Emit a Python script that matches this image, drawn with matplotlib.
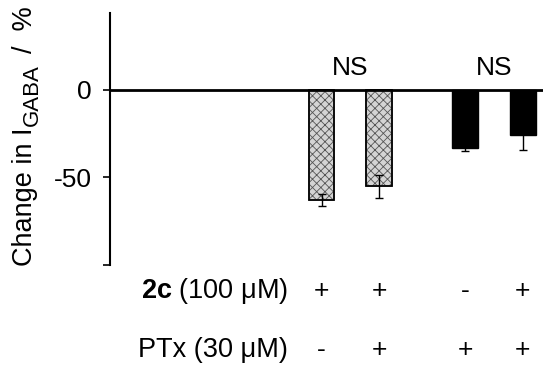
import matplotlib
matplotlib.use("Agg")
import matplotlib.pyplot as plt
import matplotlib.transforms as mtrans

plt.rcParams['font.family'] = ['Liberation Sans', 'DejaVu Sans']
plt.rcParams['mathtext.fontset'] = 'custom'
plt.rcParams['mathtext.rm'] = 'Liberation Sans'
plt.rcParams['mathtext.bf'] = 'Liberation Sans:bold'
plt.rcParams['hatch.linewidth'] = 0.6

# data
x_pos = [0, 1, 2.5, 3.5]
change = [-63, -55, -33, -26]
err = [3.5, 6.5, 2, 8.5]
fills = ['hatch', 'hatch', 'black', 'black']
row_2c = ['+', '+', '-', '+']
row_ptx = ['-', '+', '+', '+']
ns_pos = [0.5, 3.0]

W, H = 550, 372
fig = plt.figure(figsize=(W / 100, H / 100), dpi=100)
ax = fig.add_axes([0.2, 0.288, 0.787, 0.677])

for x, v, e, f in zip(x_pos, change, err, fills):
    if f == 'hatch':
        ax.bar(x, v, width=0.45, color='#d4d4d4', edgecolor='#555555',
               hatch='xxxx', linewidth=1.2, zorder=2)
        ax.bar(x, v, width=0.45, fill=False, edgecolor='black', linewidth=1.2, zorder=3)
    else:
        ax.bar(x, v, width=0.45, color='black', edgecolor='black', zorder=2)
    ax.errorbar(x, v, yerr=e, color='black', capsize=3, elinewidth=1,
                capthick=1, zorder=4)

ax.axhline(0, color='black', linewidth=2, zorder=5)

for x in ns_pos:
    ax.text(x, 12.5, 'NS', ha='center', va='center', fontsize=19)

ax.set_xlim(-3.68, 3.85)
ax.set_ylim(-100, 44)
ax.set_yticks([0, -50, -100])
ax.set_yticklabels(['0', '-50', ''], fontsize=19)
ax.tick_params(axis='y', direction='out', length=5, width=1.2, pad=8)
ax.set_xticks([])
for s in ['top', 'right', 'bottom']:
    ax.spines[s].set_visible(False)
ax.spines['left'].set_linewidth(1.5)

# y label built from pieces so the subscript stays large
px = fig.dpi_scale_trans + mtrans.Affine2D().scale(1 / fig.dpi)
kw = dict(rotation=90, rotation_mode='anchor', ha='left', va='baseline',
          transform=px)
t1 = fig.text(32, H - 266, 'Change in I', fontsize=19.5, **kw)
fig.canvas.draw()
top1 = t1.get_window_extent().y1
t2 = fig.text(38, top1 + 1, 'GABA', fontsize=16, **kw)
fig.canvas.draw()
top2 = t2.get_window_extent().y1
fig.text(32, top2 + 12, '/  %', fontsize=19.5, **kw)

trans = mtrans.blended_transform_factory(ax.transData, fig.transFigure)
y_2c = (H - 298) / H
y_ptx = (H - 357) / H
ax.text(-0.58, y_2c, '$\\mathbf{2c}$ (100 μM)', transform=trans,
        ha='right', va='baseline', fontsize=19.5)
ax.text(-0.58, y_ptx, 'PTx (30 μM)', transform=trans,
        ha='right', va='baseline', fontsize=19.5)
for x, a, b in zip(x_pos, row_2c, row_ptx):
    ax.text(x, y_2c, a, transform=trans, ha='center', va='baseline', fontsize=19)
    ax.text(x, y_ptx, b, transform=trans, ha='center', va='baseline', fontsize=19)

fig.savefig('out.png', dpi=100)
